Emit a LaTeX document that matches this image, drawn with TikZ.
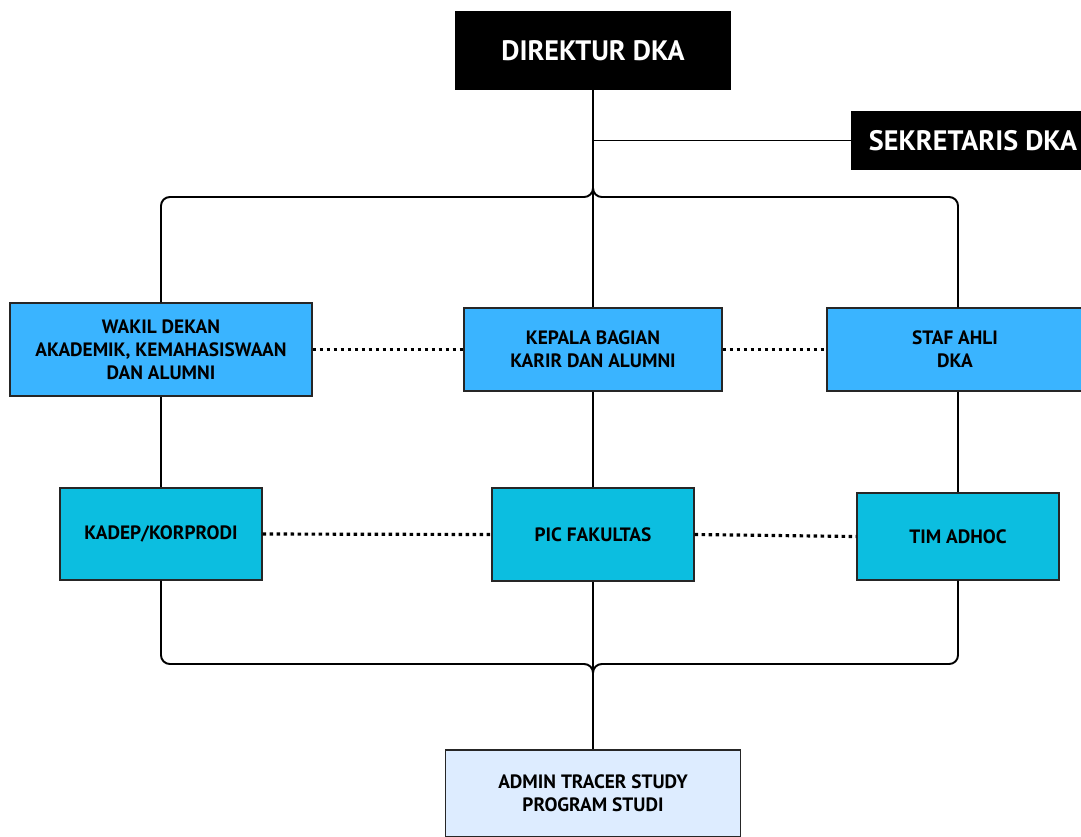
\documentclass[tikz,border=0pt]{standalone}
\usepackage{fontspec}
\setmainfont{PT Sans}
\usetikzlibrary{positioning}

\definecolor{headblack}{RGB}{0,0,0}
\definecolor{midblue}{RGB}{58,180,255}
\definecolor{cyanbox}{RGB}{12,190,224}
\definecolor{paleblue}{RGB}{221,236,255}

\begin{document}
\begin{tikzpicture}[x=0.02cm, y=-0.02cm,
	box/.style={draw=black!85, line width=0.7pt, align=center, font=\bfseries\fontsize{11}{13}\selectfont, inner sep=0pt},
	headbox/.style={fill=headblack, text=white, align=center, font=\bfseries\fontsize{16}{18}\selectfont, inner sep=0pt},
	conn/.style={line width=1.1pt, rounded corners=5pt},
	dots/.style={line width=1.8pt, dash pattern=on 0.07cm off 0.07cm}]
	\useasboundingbox (0,0) rectangle (1081,836);

	\node[headbox, minimum width=5.54cm, minimum height=1.58cm] (direktur) at (593,50.5) {DIREKTUR DKA};
	\node[headbox, minimum width=4.88cm, minimum height=1.18cm] (sekretaris) at (973,140.5) {SEKRETARIS DKA};

	\node[box, fill=midblue, minimum width=6.04cm, minimum height=1.86cm] (wakil) at (161,349.5) {WAKIL DEKAN\\AKADEMIK, KEMAHASISWAAN\\DAN ALUMNI};
	\node[box, fill=midblue, minimum width=5.16cm, minimum height=1.66cm] (kabag) at (593,349.5) {KEPALA BAGIAN\\KARIR DAN ALUMNI};
	\node[box, fill=midblue, minimum width=5.12cm, minimum height=1.66cm] (staf) at (955,349.5) {STAF AHLI\\DKA};

	\node[box, fill=cyanbox, minimum width=4.04cm, minimum height=1.84cm] (kadep) at (161,534) {KADEP/KORPRODI};
	\node[box, fill=cyanbox, minimum width=4.04cm, minimum height=1.86cm] (pic) at (593,534.5) {PIC FAKULTAS};
	\node[box, fill=cyanbox, minimum width=4.04cm, minimum height=1.74cm] (adhoc) at (958,536.5) {TIM ADHOC};

	\node[box, fill=paleblue, minimum width=5.9cm, minimum height=1.74cm] (admin) at (593,793.5) {ADMIN TRACER STUDY\\PROGRAM STUDI};

	% garis komando
	\draw[conn] (direktur.south) -- (direktur.south |- kabag.north);
	\draw[conn] (direktur.south |- sekretaris.west) -- (sekretaris.west);
	\draw[conn] (wakil.north) |- (593,197) -- (593,185);
	\draw[conn] (593,185) -- (593,197) -| (adhoc.center |- staf.north);
	\draw[conn] (wakil.south) -- (kadep.north);
	\draw[conn] (kabag.south) -- (pic.north);
	\draw[conn] (adhoc.center |- staf.south) -- (adhoc.north);
	\draw[conn] (pic.south) -- (admin.north);
	\draw[conn] (kadep.south) |- (593,664) -- (593,676);
	\draw[conn] (adhoc.south) |- (593,664) -- (593,676);

	% garis koordinasi
	\draw[dots] (wakil.east) -- (kabag.west);
	\draw[dots] (kabag.east) -- (staf.west);
	\draw[dots] (kadep.east) -- (pic.west);
	\draw[dots] (pic.east) -- (adhoc.west);
\end{tikzpicture}
\end{document}
